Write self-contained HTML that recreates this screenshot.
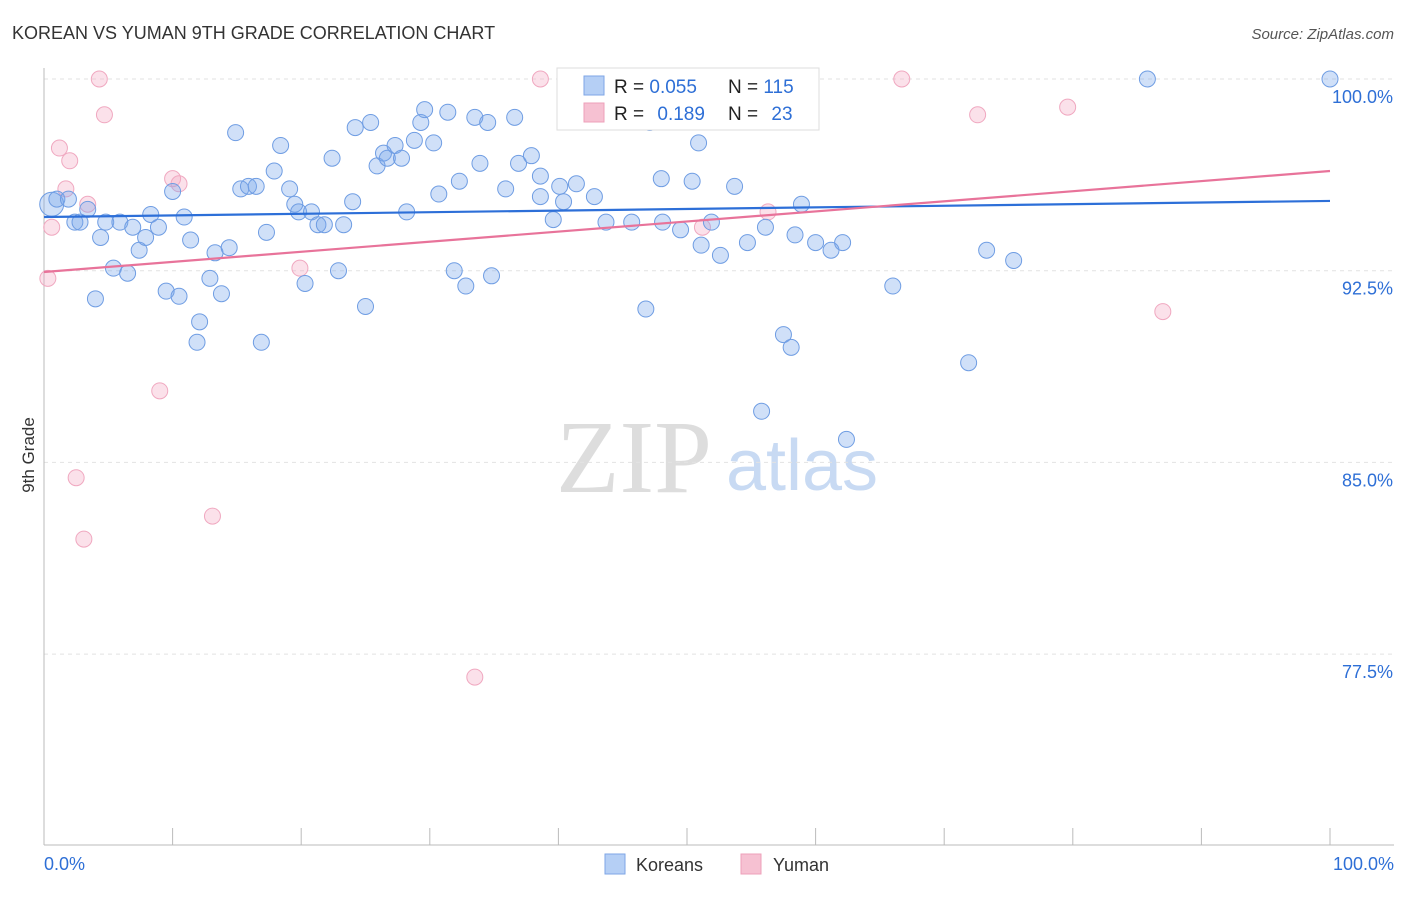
<!DOCTYPE html>
<html><head><meta charset="utf-8"><style>
body{margin:0;background:#fff;font-family:"Liberation Sans",sans-serif;}
svg text{font-family:"Liberation Sans",sans-serif;}
</style></head><body>
<svg id="chart" width="1406" height="892">
<text x="12" y="39" font-size="18" fill="#333">KOREAN VS YUMAN 9TH GRADE CORRELATION CHART</text>
<text x="1394" y="39" font-size="15" fill="#555" font-style="italic" text-anchor="end">Source: ZipAtlas.com</text>
<text x="634" y="492" font-size="104" fill="#ddd" style="font-family:'Liberation Serif',serif" text-anchor="middle">ZIP</text>
<text x="802" y="490" font-size="72" fill="#c8daf3" text-anchor="middle">atlas</text>
<text transform="translate(34,455) rotate(-90)" font-size="17" fill="#333" text-anchor="middle">9th Grade</text>
<g id="grid"></g><g id="pts"></g><g id="lines"></g>
<g>
<rect x="557" y="68" width="262" height="62" fill="#fff" stroke="#ddd"/>
<rect x="584" y="76" width="20" height="19" fill="#b5cff5" stroke="#7ea6e6"/>
<rect x="584" y="103" width="20" height="19" fill="#f6c1d2" stroke="#eea0ba"/>
<text x="614" y="93" font-size="19" fill="#222">R = <tspan fill="#2e6fd6">0.055</tspan></text>
<text x="728" y="93" font-size="19" fill="#222">N = <tspan fill="#2e6fd6">115</tspan></text>
<text x="614" y="120" font-size="19" fill="#222">R = <tspan fill="#2e6fd6" dx="8">0.189</tspan></text>
<text x="728" y="120" font-size="19" fill="#222">N = <tspan fill="#2e6fd6" dx="8">23</tspan></text>
</g>
<g>
<rect x="605" y="854" width="20" height="20" fill="#b5cff5" stroke="#7ea6e6"/>
<text x="636" y="871" font-size="18" fill="#333">Koreans</text>
<rect x="741" y="854" width="20" height="20" fill="#f6c1d2" stroke="#eea0ba"/>
<text x="773" y="871" font-size="18" fill="#333">Yuman</text>
</g>
<text x="44" y="870" font-size="18" fill="#2e6fd6">0.0%</text>
<text x="1394" y="870" font-size="18" fill="#2e6fd6" text-anchor="end">100.0%</text>
</svg>
<script>
const yTicks=[100,92.5,85,77.5];
const yTickLabels=["100.0%","92.5%","85.0%","77.5%"];
const xTicks=[0,10,20,30,40,50,60,70,80,90,100];
const koreanX=[0.6,1.0,1.9,2.4,2.8,3.4,4.0,4.4,4.8,5.4,5.9,6.5,6.9,7.4,7.9,8.3,8.9,9.5,10.0,10.5,10.9,11.4,12.1,11.9,12.9,13.3,13.8,14.4,14.9,15.3,15.9,16.5,16.9,17.3,17.9,18.4,19.1,19.5,19.8,20.3,20.8,21.3,21.8,22.4,22.9,23.3,24.0,24.2,25.0,25.4,25.9,26.4,26.7,27.3,27.8,28.2,28.8,29.3,29.6,30.3,30.7,31.4,31.9,32.3,32.8,33.5,33.9,34.5,34.8,35.9,36.6,36.9,37.9,38.6,38.6,39.6,40.1,40.4,40.7,41.4,42.8,43.7,45.7,46.8,47.1,48.0,48.1,49.5,50.4,50.9,51.1,51.9,52.6,53.7,54.7,55.8,56.1,57.5,58.1,58.4,58.9,60.0,61.2,62.1,62.4,66.0,71.9,73.3,75.4,85.8,100,49.3,54.6];
const koreanY=[95.1,95.3,95.3,94.4,94.4,94.9,91.4,93.8,94.4,92.6,94.4,92.4,94.2,93.3,93.8,94.7,94.2,91.7,95.6,91.5,94.6,93.7,90.5,89.7,92.2,93.2,91.6,93.4,97.9,95.7,95.8,95.8,89.7,94.0,96.4,97.4,95.7,95.1,94.8,92.0,94.8,94.3,94.3,96.9,92.5,94.3,95.2,98.1,91.1,98.3,96.6,97.1,96.9,97.4,96.9,94.8,97.6,98.3,98.8,97.5,95.5,98.7,92.5,96.0,91.9,98.5,96.7,98.3,92.3,95.7,98.5,96.7,97.0,96.2,95.4,94.5,95.8,95.2,100,95.9,95.4,94.4,94.4,91.0,98.3,96.1,94.4,94.1,96.0,97.5,93.5,94.4,93.1,95.8,93.6,87.0,94.2,90.0,89.5,93.9,95.1,93.6,93.3,93.6,85.9,91.9,88.9,93.3,92.9,100,100,100,100];
const yumanX=[0.3,0.6,1.2,1.7,2.0,2.5,3.1,3.4,4.3,4.7,9.0,10.0,10.5,13.1,19.9,33.5,38.6,42.5,51.2,56.3,66.7,72.6,79.6,87.0];
const yumanY=[92.2,94.2,97.3,95.7,96.8,84.4,82.0,95.1,100,98.6,87.8,96.1,95.9,82.9,92.6,76.6,100,98.8,94.2,94.8,100,98.6,98.9,90.9];
const koreanTrend=[94.6,95.23];
const yumanTrend=[92.45,96.4];
const NS='http://www.w3.org/2000/svg';
const X=v=>44+v*12.86, Y=v=>79+(100-v)*25.56;
function mk(tag,attrs,parent){const e=document.createElementNS(NS,tag);for(const k in attrs)e.setAttribute(k,attrs[k]);parent.appendChild(e);return e;}
const grid=document.getElementById('grid');
yTicks.forEach((t,i)=>{
 const l=mk('line',{x1:44,x2:1394,y1:Y(t),y2:Y(t),stroke:'#e2e2e2','stroke-dasharray':'4,4'},grid);
 
 
 const tx=mk('text',{x:1393,y:Y(t)+24,'font-size':18,fill:'#2e6fd6','text-anchor':'end'},grid);
 tx.textContent=yTickLabels[i];
 
 
});
const ax=mk('line',{x1:44,x2:44,y1:68,y2:845,stroke:'#bbb'},grid);


const bx=mk('line',{x1:44,x2:1394,y1:845,y2:845,stroke:'#bbb'},grid);


xTicks.forEach(t=>{
 const l=mk('line',{x1:X(t),x2:X(t),y1:828,y2:845,stroke:'#bbb'},grid);
 
 
});
const pts=document.getElementById('pts');
yumanX.forEach((x,i)=>{
 const c=mk('circle',{cx:X(x),cy:Y(yumanY[i]),r:8,fill:'rgba(244,170,195,0.35)',stroke:'#f0a8c0','stroke-width':1},pts);
 
 
});
koreanX.forEach((x,i)=>{
 const c=mk('circle',{cx:X(x),cy:Y(koreanY[i]),r:i===0?12:8,fill:'rgba(120,165,235,0.35)',stroke:'#6f9de3','stroke-width':1},pts);
 
 
});
const lines=document.getElementById('lines');
const bl=mk('line',{x1:X(0),x2:X(100),y1:Y(koreanTrend[0]),y2:Y(koreanTrend[1]),stroke:'#2d6fd8','stroke-width':2.2},lines);


const pl=mk('line',{x1:X(0),x2:X(100),y1:Y(yumanTrend[0]),y2:Y(yumanTrend[1]),stroke:'#e8739a','stroke-width':2.2},lines);


</script>
</body></html>
